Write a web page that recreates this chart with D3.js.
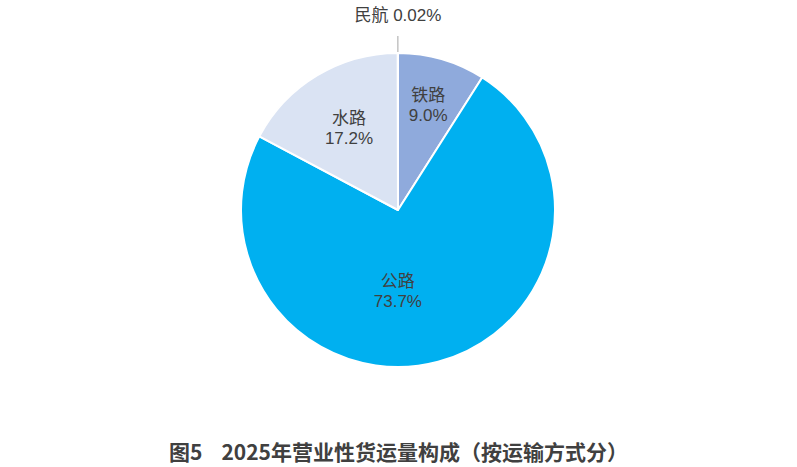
<!DOCTYPE html>
<html>
<head>
<meta charset="utf-8">
<script src="https://cdn.jsdelivr.net/npm/d3@7"></script>
<style>
  body { margin: 0; background: #fff; }
  text { font-family: "Liberation Sans", Arial, "Noto Sans CJK SC", sans-serif; }
</style>
</head>
<body>
<script>
// Chart settings
const width = 797
const height = 467
const cx = 398
const cy = 210
const radius = 157

// Data
const modes = ['铁路', '公路', '水路', '民航']
const shares = [9.0, 73.7, 17.2, 0.02]
const shareLabels = ['9.0%', '73.7%', '17.2%', '0.02%']
const colors = ['#8faadc', '#00b0f0', '#dae3f3', '#c9c9c9']

const textColor = '#404040'

const data = modes.map((m, i) => ({ name: m, value: shares[i], label: shareLabels[i], color: colors[i] }))

// Create svg
const svg = d3.select('body')
  .append('svg')
  .attr('width', width)
  .attr('height', height)

const g = svg.append('g')
  .attr('transform', `translate(${cx}, ${cy})`)

// Pie layout
const pie = d3.pie()
  .value(d => d.value)
  .sort(null)

const arc = d3.arc()
  .innerRadius(0)
  .outerRadius(radius)

const arcs = pie(data)

// Add slices
g.selectAll('path')
  .data(arcs)
  .enter()
  .append('path')
  .attr('d', arc)
  .attr('fill', d => d.data.color)
  .attr('stroke', '#fff')
  .attr('stroke-width', 2)
  .attr('stroke-linejoin', 'round')

// Inside labels
const labelRadius = {
  '铁路': 108,
  '公路': 82,
  '水路': 95
}
// nudge for the big slice, which the source centres under the middle
const labelAngleShift = { '公路': 0.26 }

const inside = arcs.filter(d => d.data.name !== '民航')
const labels = g.selectAll('.slice-label')
  .data(inside)
  .enter()
  .append('text')
  .attr('class', 'slice-label')
  .attr('text-anchor', 'middle')
  .attr('fill', textColor)
  .style('font-size', '17px')
  .attr('transform', d => {
    const a = (d.startAngle + d.endAngle) / 2 + (labelAngleShift[d.data.name] || 0)
    const r = labelRadius[d.data.name]
    return `translate(${Math.sin(a) * r}, ${-Math.cos(a) * r})`
  })

labels.append('tspan')
  .attr('x', 0)
  .attr('y', -5)
  .text(d => d.data.name)

labels.append('tspan')
  .attr('x', 0)
  .attr('y', 15)
  .text(d => d.data.label)

// Outside label with leader line for the tiny slice
const tiny = arcs.find(d => d.data.name === '民航')
const ta = (tiny.startAngle + tiny.endAngle) / 2
g.append('line')
  .attr('x1', Math.sin(ta) * (radius + 1))
  .attr('y1', -Math.cos(ta) * (radius + 1))
  .attr('x2', Math.sin(ta) * (radius + 17))
  .attr('y2', -Math.cos(ta) * (radius + 17))
  .attr('stroke', '#a6a6a6')
  .attr('stroke-width', 1)

g.append('text')
  .attr('x', Math.sin(ta) * (radius + 22))
  .attr('y', -Math.cos(ta) * (radius + 22) - 10)
  .attr('text-anchor', 'middle')
  .attr('fill', textColor)
  .style('font-size', '17px')
  .text(`${tiny.data.name} ${tiny.data.label}`)

// Add title
svg.append('text')
  .attr('x', width / 2)
  .attr('y', 460)
  .attr('text-anchor', 'middle')
  .attr('fill', textColor)
  .style('font-size', '21px')
  .style('font-weight', 'bold')
  .style('font-family', '"Noto Sans CJK SC", sans-serif')
  .attr('xml:space', 'preserve')
  .text('图5    2025年营业性货运量构成（按运输方式分）')
</script>
</body>
</html>
